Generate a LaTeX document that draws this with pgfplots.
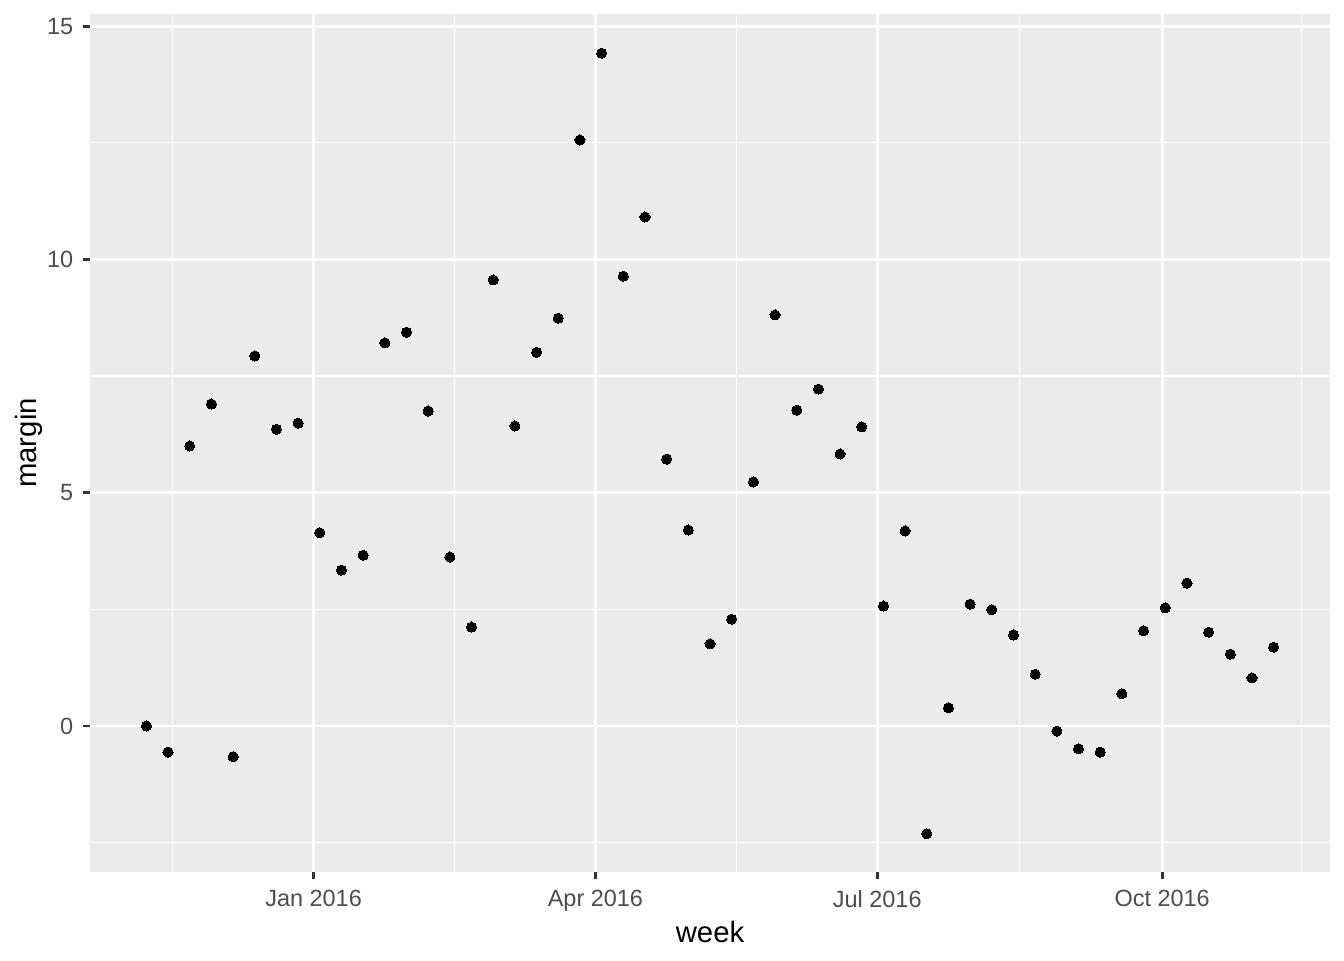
\documentclass[border=0pt]{standalone}
\usepackage{fontspec}
\setmainfont{Liberation Sans}
\usepackage{pgfplots}
\pgfplotsset{compat=1.18}
\definecolor{panelgray}{HTML}{EBEBEB}
\definecolor{gray30}{HTML}{4D4D4D}
\definecolor{gray20}{HTML}{333333}
\begin{document}
\begin{tikzpicture}
\begin{axis}[
  name=ax,
  scale only axis,
  width=465pt, height=321.75pt,
  xmin=-72.2, xmax=328.2,
  ymin=-3.13, ymax=15.26,
  axis background/.style={fill=panelgray},
  axis line style={draw=none},
  xtick={0,91,182,274},
  xticklabels={Jan 2016,Apr 2016,Jul 2016,Oct 2016},
  minor xtick={-45.5,45.5,136.5,228,319},
  ytick={0,5,10,15},
  minor ytick={-2.5,2.5,7.5,12.5},
  grid=both,
  major grid style={white, line width=1.07pt},
  minor grid style={white, line width=0.53pt},
  tick align=outside,
  major tick length=2.75pt,
  minor tick length=0pt,
  tick style={gray20, line width=1.07pt},
  xtick pos=bottom, ytick pos=left,
  /pgf/number format/assume math mode=true,
  ticklabel style={font=\fontsize{8.8}{10}\selectfont, text=gray30},
  xticklabel style={yshift=-0.5pt},
  xlabel={week}, ylabel={margin},
  label style={font=\fontsize{11}{13}\selectfont, text=black},
  xlabel style={yshift=3pt},
  ylabel style={yshift=-5pt},
  clip=false,
]
\addplot[only marks, mark=*, mark size=1.9pt, mark options={fill=black, draw=black, line width=0pt}] table {
x y
-54 0.00
-47 -0.56
-40 6.00
-33 6.90
-26 -0.66
-19 7.93
-12 6.36
-5 6.49
2 4.14
9 3.34
16 3.66
23 8.21
30 8.44
37 6.75
44 3.62
51 2.12
58 9.56
65 6.43
72 8.01
79 8.74
86 12.56
93 14.42
100 9.64
107 10.91
114 5.72
121 4.20
128 1.76
135 2.29
142 5.23
149 8.81
156 6.77
163 7.22
170 5.83
177 6.41
184 2.57
191 4.18
198 -2.31
205 0.39
212 2.61
219 2.49
226 1.95
233 1.11
240 -0.11
247 -0.49
254 -0.56
261 0.69
268 2.04
275 2.53
282 3.06
289 2.01
296 1.54
303 1.03
310 1.69
};
\end{axis}
\path (ax.south west) ++(-33.75pt,-33pt) coordinate (bl);
\path (ax.north east) ++(5.25pt,5.25pt) coordinate (tr);
\path (bl) rectangle (tr);
\end{tikzpicture}
\end{document}
